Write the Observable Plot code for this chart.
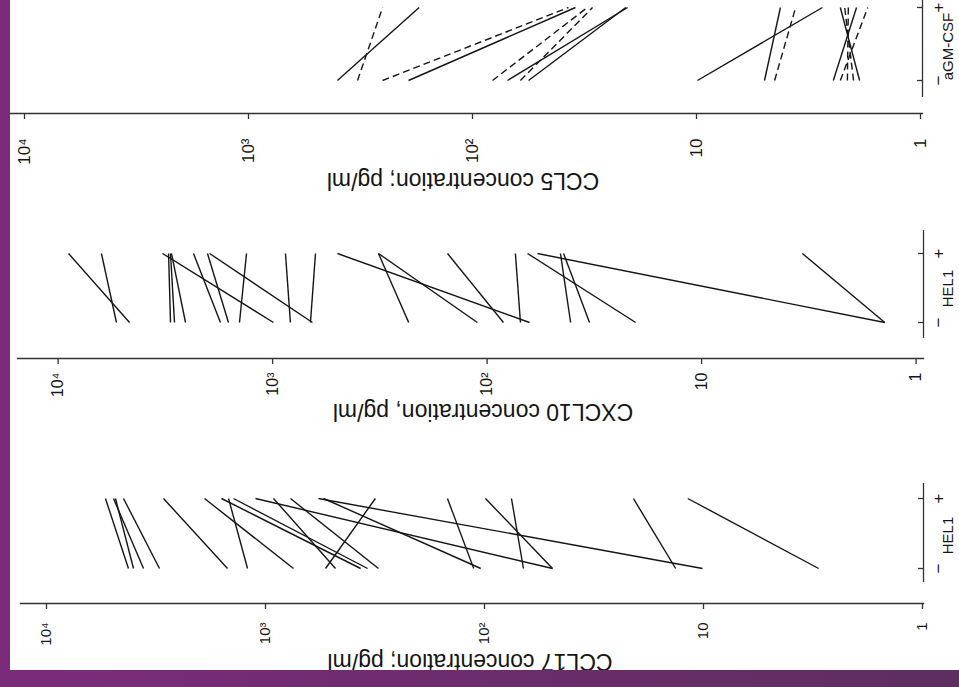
<!DOCTYPE html>
<html><head><meta charset="utf-8">
<script src="https://cdn.jsdelivr.net/npm/d3@7"></script>
<script src="https://cdn.jsdelivr.net/npm/@observablehq/plot@0.6"></script>
<style>
html,body{margin:0;padding:0;background:#fff;}
#page{position:relative;width:959px;height:687px;overflow:hidden;background:#fff;font-family:"Liberation Sans",Arial,sans-serif;}
.panel{position:absolute;left:0;}
#leftband{position:absolute;left:0;top:0;width:10px;height:687px;background:#7b2b7b;}
#bottomband{position:absolute;left:0;top:670px;width:959px;height:17px;background:linear-gradient(to right,#7b2b7b,#5d2e5f);}
</style></head><body><div id="page"></div>
<script>
// ---- data ----
const conditions = ["+", "-"];
const conditionLabels = ["+", "−"];
const valueTicks = [1e4, 1e3, 1e2, 10, 1];
const valueTickLabels = ["10⁴", "10³", "10²", "10", "1"];

// CCL5, aGM-CSF (pg/ml)
const ccl5Minus = [401, 326, 252, 193, 81.4, 69.8, 61.1, 56.2, 9.9, 4.97, 4.48, 2.45, 2.28, 1.87, 1.99, 2.12];
const ccl5Plus  = [173, 252, 37.3, 34.7, 30.7, 20.3, 29.1, 20.7, 2.74, 4.22, 3.61, 1.93, 1.72, 2.28, 2.18, 2.10];
const ccl5Group = ["A", "B", "B", "A", "B", "A", "B", "A", "A", "A", "B", "A", "B", "A", "B", "B"];

// CXCL10, HEL1 (pg/ml)
const cxcl10Minus = [4645, 5345, 991, 2992, 2866, 2547, 1750, 1606, 652, 1427, 826, 666, 63.4, 232, 111, 83.9, 69.9, 20.3, 1.40, 40.8, 33.3, 1.40];
const cxcl10Plus  = [8940, 6280, 3260, 3055, 2992, 2960, 2338, 2012, 1968, 1323, 871, 631, 498, 321, 321, 153, 73.8, 64.8, 58.2, 45.5, 44.0, 3.39];

// CCL17, HEL1 (pg/ml)
const ccl17Minus = [4224, 3606, 4006, 3048, 1491, 745, 368, 1208, 342, 48.9, 479, 305, 10.1, 104, 532, 112, 48.9, 66.4, 13.4, 2.98];
const ccl17Plus  = [5380, 4945, 4842, 4450, 2923, 1899, 1588, 1475, 1400, 1111, 919, 769, 573, 543, 315, 147.6, 99, 75.3, 20.9, 11.8];

// ---- drawing ----
const W = 959;
const ink = "#151515";
const axisInk = "#333";

function panel(cfg) {
  const rows = cfg.minus.map((m, i) => ({minus: m, plus: cfg.plus[i], group: cfg.group ? cfg.group[i] : "A"}));
  const L = v => v - cfg.top;
  const H = cfg.height;
  const marginBottom = H - L(cfg.axisY);
  const marginRight = W - cfg.axisRight;
  const frameCenter = (cfg.axisLeft + cfg.axisRight) / 2;
  const linkOpts = {x1: "minus", x2: "plus", y1: () => "-", y2: () => "+", stroke: ink, strokeWidth: 1.4};
  const svg = Plot.plot({
    width: W, height: H,
    marginLeft: cfg.axisLeft, marginRight, marginTop: 0, marginBottom,
    x: {type: "log", domain: [1e4, 1], range: [cfg.x4, cfg.x1]},
    y: {type: "point", domain: conditions, range: [L(cfg.yPlus), L(cfg.yMinus)], padding: 0},
    style: {background: "transparent", fontFamily: "'Liberation Sans', Arial, sans-serif", color: ink, overflow: "visible"},
    marks: [
      Plot.link(rows.filter(d => d.group === "A"), linkOpts),
      Plot.link(rows.filter(d => d.group === "B"), {...linkOpts, strokeDasharray: "7,4"}),
      Plot.frame({anchor: "bottom", stroke: axisInk, strokeWidth: 1.3}),
      Plot.axisX({anchor: "bottom", ticks: valueTicks, tickSize: 6, fill: "none", stroke: axisInk, strokeWidth: 1.3}),
      Plot.axisY({anchor: "right", tickSize: -6, fill: "none", stroke: axisInk, strokeWidth: 1.3}),
      Plot.ruleX([1], {x: d => d, y1: () => "+", y2: () => "-", dx: cfg.axisRight - cfg.x1,
        insetTop: -(cfg.yPlus - cfg.catTop), insetBottom: -(cfg.catBottom - cfg.yMinus), stroke: axisInk, strokeWidth: 1.3}),
      Plot.text(valueTicks, {x: d => d, text: (d, i) => valueTickLabels[i], frameAnchor: "bottom",
        dy: cfg.tickLabelEnd - cfg.axisY, rotate: -90, textAnchor: "end", lineAnchor: "middle", fontSize: cfg.tickFont, fill: ink}),
      Plot.text(conditions, {x: () => 1, y: d => d, text: (d, i) => conditionLabels[i],
        dx: 938 - cfg.x1, rotate: -90, textAnchor: "middle", lineAnchor: "middle", fontSize: 17, fill: ink}),
      Plot.text([cfg.catLabel], {x: () => 1, y: () => "+", text: d => d,
        dy: cfg.catLabelY - cfg.yPlus, dx: cfg.catLabelX - cfg.x1, rotate: -90, textAnchor: "middle", lineAnchor: "middle", fontSize: 15, fill: ink}),
      Plot.text([cfg.title], {text: d => d, frameAnchor: "bottom",
        dx: cfg.titleX - frameCenter, dy: cfg.titleY - cfg.axisY, rotate: 180, textAnchor: "middle", lineAnchor: "middle", fontSize: 23, fill: ink})
    ]
  });
  svg.classList.add("panel");
  svg.style.top = cfg.top + "px";
  svg.style.position = "absolute";
  return svg;
}

const page = document.getElementById("page");
page.append(panel({
  top: 0, height: 200, minus: ccl5Minus, plus: ccl5Plus, group: ccl5Group,
  axisY: 113, axisLeft: 10, axisRight: 922, x4: 24, x1: 920,
  yPlus: 7, yMinus: 80, catTop: 0, catBottom: 97,
  tickLabelEnd: 138, tickFont: 17,
  title: "CCL5 concentration; pg/ml", titleX: 462.5, titleY: 180,
  catLabel: "aGM-CSF", catLabelX: 948, catLabelY: 46
}));
page.append(panel({
  top: 200, height: 230, minus: cxcl10Minus, plus: cxcl10Plus,
  axisY: 358, axisLeft: 17, axisRight: 923, x4: 57.6, x1: 915.6,
  yPlus: 253, yMinus: 322, catTop: 230, catBottom: 338,
  tickLabelEnd: 372, tickFont: 16,
  title: "CXCL10 concentration, pg/ml", titleX: 482.5, titleY: 411,
  catLabel: "HEL1", catLabelX: 948, catLabelY: 288
}));
page.append(panel({
  top: 430, height: 240, minus: ccl17Minus, plus: ccl17Plus,
  axisY: 603, axisLeft: 20, axisRight: 923, x4: 46, x1: 922,
  yPlus: 498, yMinus: 568, catTop: 483, catBottom: 582,
  tickLabelEnd: 622, tickFont: 15,
  title: "CCL17 concentration; pg/ml", titleX: 469.5, titleY: 660.5,
  catLabel: "HEL1", catLabelX: 948, catLabelY: 535
}));
const lb = document.createElement("div"); lb.id = "leftband"; page.append(lb);
const bb = document.createElement("div"); bb.id = "bottomband"; page.append(bb);
</script></body></html>
